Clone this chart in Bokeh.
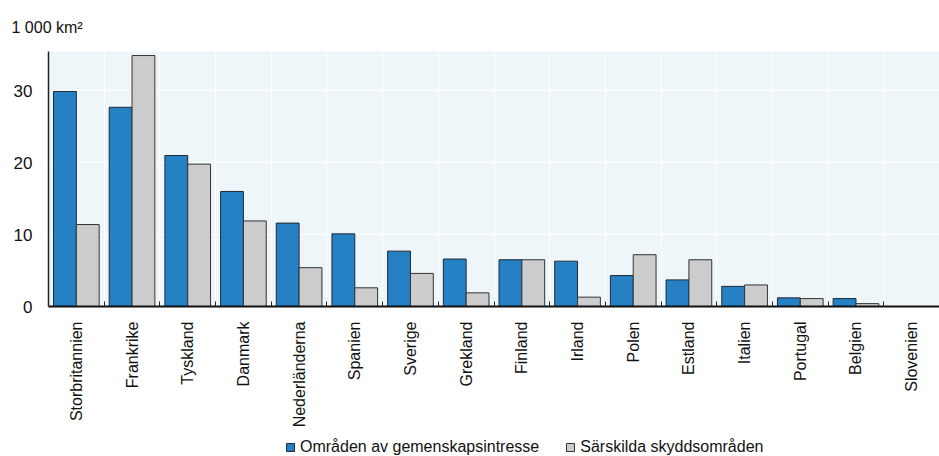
import math
from bokeh.plotting import figure
from bokeh.layouts import column
from bokeh.models import (ColumnDataSource, Range1d, FixedTicker, Legend, LegendItem, Title)
from bokeh.transform import dodge
from bokeh.embed import file_html
from bokeh.resources import INLINE

countries = ["Storbritannien", "Frankrike", "Tyskland", "Danmark", "Nederländerna",
             "Spanien", "Sverige", "Grekland", "Finland", "Irland", "Polen",
             "Estland", "Italien", "Portugal", "Belgien", "Slovenien"]
gemenskap = [29.9, 27.7, 21.0, 16.0, 11.6, 10.1, 7.7, 6.6, 6.5, 6.3, 4.3,
             3.7, 2.8, 1.2, 1.1, 0.0]
skydd = [11.4, 34.9, 19.8, 11.9, 5.4, 2.6, 4.6, 1.9, 6.5, 1.3, 7.2,
         6.5, 3.0, 1.1, 0.4, 0.0]
series_names = ["Områden av gemenskapsintresse", "Särskilda skyddsområden"]
y_ticks = [0, 10, 20, 30]
unit_label = "1 000 km²"

BLUE = "#2581C4"
GREY = "#CCCCCC"
BLUE_EDGE = "#1f2a33"
GREY_EDGE = "#333333"
FONT = "Liberation Sans"

n = len(countries)
centers = [i + 0.5 for i in range(n)]
source = ColumnDataSource(dict(x=centers, a=gemenskap, b=skydd, name=countries))

p = figure(width=939, height=430, output_backend="svg", toolbar_location=None,
           x_range=Range1d(0, n), y_range=Range1d(0, 35.46),
           min_border_left=48, min_border_right=0, min_border_top=51,
           min_border_bottom=119)
p.background_fill_color = "#EEF6F9"
p.border_fill_color = "white"
p.outline_line_color = None

p.vbar(x=dodge("x", -0.205, range=p.x_range), top="a", width=0.41, source=source,
       fill_color=BLUE, line_color=BLUE_EDGE, line_width=1)
p.vbar(x=dodge("x", 0.205, range=p.x_range), top="b", width=0.41, source=source,
       fill_color=GREY, line_color=GREY_EDGE, line_width=1)

# x axis
xa = p.xaxis[0]
xa.ticker = FixedTicker(ticks=centers, minor_ticks=list(range(1, n)))
xa.major_label_overrides = {c: name for c, name in zip(centers, countries)}
xa.major_label_orientation = math.pi / 2
xa.major_tick_line_color = None
xa.minor_tick_in = 5
xa.minor_tick_out = 0
xa.minor_tick_line_color = "#222222"
xa.axis_line_color = "#111111"
xa.axis_line_width = 2
xa.major_label_standoff = 9
xa.major_label_text_font = FONT
xa.major_label_text_font_size = "16px"
xa.major_label_text_color = "#111111"

# y axis
ya = p.yaxis[0]
ya.ticker = FixedTicker(ticks=y_ticks)
ya.major_tick_in = 0
ya.major_tick_out = 0
ya.minor_tick_line_color = None
ya.axis_line_color = "#222222"
ya.axis_line_width = 1.5
ya.major_label_standoff = 16
ya.major_label_text_font = FONT
ya.major_label_text_font_size = "17px"
ya.major_label_text_color = "#111111"

p.xgrid.ticker = FixedTicker(ticks=list(range(1, n)))
p.xgrid.grid_line_color = "white"
p.xgrid.grid_line_width = 1
p.ygrid.ticker = FixedTicker(ticks=y_ticks[1:])
p.ygrid.grid_line_color = "white"
p.ygrid.grid_line_width = 1

p.add_layout(Title(text=unit_label, align="left", offset=-37, standoff=31,
                   text_font=FONT, text_font_size="16px", text_font_style="normal",
                   text_color="#111111"), "above")

# legend strip (swatch renderers hold a single placeholder outside the visible range)
lg = figure(width=939, height=26, output_backend="svg", toolbar_location=None,
            x_range=Range1d(0, 1), y_range=Range1d(0, 1),
            x_axis_location=None, y_axis_location=None,
            min_border_left=0, min_border_right=0, min_border_top=0, min_border_bottom=0)
lg.grid.visible = False
lg.outline_line_color = None
lg.background_fill_color = "white"
swatch = ColumnDataSource(dict(x=[-5], top=[0]))
g1 = lg.vbar(x="x", top="top", width=0.1, source=swatch,
             fill_color=BLUE, line_color=BLUE_EDGE, line_width=1)
g2 = lg.vbar(x="x", top="top", width=0.1, source=swatch,
             fill_color=GREY, line_color=GREY_EDGE, line_width=1)
legend = Legend(items=[LegendItem(label=series_names[0], renderers=[g1]),
                       LegendItem(label=series_names[1], renderers=[g2])],
                orientation="horizontal", location=(237, 0),
                glyph_width=10, glyph_height=10, label_standoff=5, spacing=26,
                padding=0, margin=0, border_line_color=None,
                background_fill_alpha=0,
                label_text_font=FONT, label_text_font_size="16px",
                label_text_color="#111111")
lg.add_layout(legend, "center")

open("out.html", "w").write(file_html(column(p, lg, spacing=0), INLINE))
